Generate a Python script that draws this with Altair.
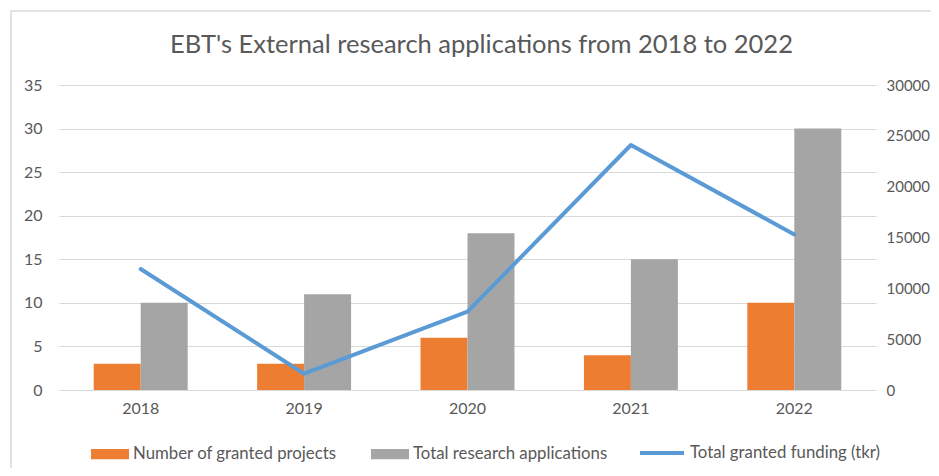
import altair as alt
import pandas as pd

years = ["2018", "2019", "2020", "2021", "2022"]
granted_projects = [3, 3, 6, 4, 10]
total_applications = [10, 11, 18, 15, 30]
granted_funding = [11900, 1600, 7700, 24100, 15300]

s_granted = "Number of granted projects"
s_apps = "Total research applications"
s_fund = "Total granted funding (tkr)"

FONT = "Lato"
TXT = "#595959"
GRID = "#D9D9D9"

bars_df = pd.DataFrame(
    {"year": years * 2,
     "series": [s_granted] * len(years) + [s_apps] * len(years),
     "value": granted_projects + total_applications}
)
line_df = pd.DataFrame({"year": years, "funding": granted_funding, "series": [s_fund] * len(years)})
frame_df = pd.DataFrame({"k": [0]})

x_enc = alt.X("year:N", sort=years,
              scale=alt.Scale(paddingInner=0.425, paddingOuter=0.2125),
              axis=alt.Axis(title=None, labelAngle=0, domain=False, ticks=False,
                            labelPadding=10, labelColor=TXT, labelFontSize=16, labelFont=FONT))

bars = alt.Chart(bars_df).mark_bar().encode(
    x=x_enc,
    xOffset=alt.XOffset("series:N", sort=[s_granted, s_apps], scale=alt.Scale(paddingInner=0, paddingOuter=0)),
    y=alt.Y("value:Q", scale=alt.Scale(domain=[0, 35], nice=False),
            axis=alt.Axis(title=None, orient="left", values=[0, 5, 10, 15, 20, 25, 30, 35],
                          grid=True, gridColor=GRID, domain=False, ticks=False,
                          labelPadding=17, labelColor=TXT, labelFontSize=16, labelFont=FONT)),
    fill=alt.Fill("series:N", sort=[s_granted, s_apps],
                  scale=alt.Scale(domain=[s_granted, s_apps], range=["#ED7D31", "#A5A5A5"]),
                  legend=alt.Legend(title=None, orient="none", direction="horizontal",
                                    legendX=32, legendY=350, labelLimit=0,
                                    symbolType="M-1,-0.27H1V0.27H-1Z", symbolSize=1444,
                                    symbolStrokeWidth=0, labelOffset=4, columnPadding=34,
                                    labelFont=FONT, labelFontSize=16.8, labelColor=TXT)),
)

line = alt.Chart(line_df).mark_line(strokeWidth=4, strokeJoin="round", strokeCap="round").encode(
    x=alt.X("year:N", sort=years),
    y=alt.Y("funding:Q", scale=alt.Scale(domain=[0, 30000], nice=False),
            axis=alt.Axis(title=None, orient="right", values=[0, 5000, 10000, 15000, 20000, 25000, 30000],
                          format="d", grid=False, domain=False, ticks=False,
                          labelPadding=10, labelColor=TXT, labelFontSize=15, labelFont=FONT)),
    stroke=alt.Stroke("series:N", scale=alt.Scale(domain=[s_fund], range=["#5B9BD5"]),
                      legend=alt.Legend(title=None, orient="none", direction="horizontal",
                                        legendX=579, legendY=344, labelLimit=0,
                                        symbolType="stroke", symbolSize=1936, symbolStrokeWidth=4,
                                        labelOffset=4,
                                        labelFont=FONT, labelFontSize=16.8, labelColor=TXT)),
)

frame = alt.Chart(frame_df).mark_rect(fillOpacity=0, stroke=GRID, strokeWidth=1.5, clip=False).encode(
    x=alt.value(-48), x2=alt.value(900), y=alt.value(-74), y2=alt.value(420)
)

chart = alt.layer(frame, bars, line).resolve_scale(y="independent").properties(
    width=817, height=305,
    title=alt.TitleParams("EBT's External research applications from 2018 to 2022",
                          font=FONT, fontSize=25.5, fontWeight="normal", color=TXT,
                          anchor="middle", frame="group", offset=-48, dx=14),
    autosize=alt.AutoSizeParams(type="none"),
    padding={"left": 51, "top": 77, "right": 55, "bottom": 78},
).configure_view(stroke=None)

chart.save("out.html", embed_options={"renderer": "svg", "actions": False})
